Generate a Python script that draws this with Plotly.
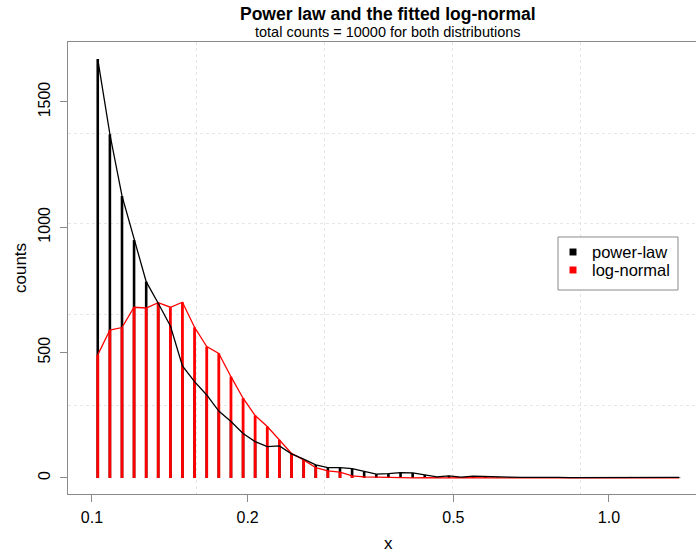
import plotly.graph_objects as go

# ---- data ----
x_mid = [0.1026, 0.1083, 0.1143, 0.1206, 0.1273, 0.1343, 0.1418, 0.1496, 0.1579, 0.1667,
         0.1759, 0.1857, 0.1960, 0.2068, 0.2183, 0.2304, 0.2432, 0.2567, 0.2709, 0.2859,
         0.3018, 0.3185, 0.3361, 0.3548, 0.3744, 0.3952, 0.4171, 0.4402, 0.4646, 0.4903,
         0.5175, 0.5462, 0.5765, 0.6085, 0.6422, 0.6778, 0.7154, 0.7550, 0.7969, 0.8410,
         0.8876, 0.9368, 0.9888, 1.0436, 1.1014, 1.1625, 1.2269, 1.2949, 1.3667]

power_law = [1671, 1371, 1125, 949, 783, 697, 606, 447, 384, 331,
             267, 225, 177, 145, 125, 128, 96, 75, 52, 41,
             41, 37, 25, 15, 17, 21, 20, 12, 4, 8,
             3, 7, 5, 2, 3, 2, 3, 3, 2, 1,
             1, 2, 2, 3, 4, 2, 1, 1, 2]

log_normal = [491, 590, 600, 681, 678, 699, 681, 701, 601, 524,
              497, 404, 318, 249, 205, 152, 98, 72, 41, 28,
              23, 8, 4, 3, 1, 1, 0, 1, 0, 0,
              1, 0, 0, 0, 0, 0, 0, 0, 0, 0,
              0, 0, 0, 0, 0, 0, 0, 0, 0]

series_names = ["power-law", "log-normal"]
series_colors = ["#000000", "#FF0000"]

x_ticks = [0.1, 0.2, 0.5, 1.0]
x_tick_text = ["0.1", "0.2", "0.5", "1.0"]
y_ticks = [0, 500, 1000, 1500]

FONT = "Liberation Sans, Arial, Helvetica, sans-serif"
AXIS_GRAY = "#8a8a8a"
GRID = "#e6e6e6"


def stems(xs, ys):
    X, Y = [], []
    for x, y in zip(xs, ys):
        X += [x, x, None]
        Y += [0, y, None]
    return X, Y


fig = go.Figure()
bx, by = stems(x_mid, power_law)
fig.add_trace(go.Scatter(x=bx, y=by, mode="lines", line=dict(color=series_colors[0], width=2.6),
                         showlegend=False, hoverinfo="skip"))
rx, ry = stems(x_mid, log_normal)
fig.add_trace(go.Scatter(x=rx, y=ry, mode="lines", line=dict(color=series_colors[1], width=2.8),
                         showlegend=False, hoverinfo="skip"))
fig.add_trace(go.Scatter(x=x_mid, y=log_normal, mode="lines", name=series_names[1],
                         line=dict(color=series_colors[1], width=1.3), showlegend=False))
fig.add_trace(go.Scatter(x=x_mid, y=power_law, mode="lines", name=series_names[0],
                         line=dict(color=series_colors[0], width=1.3), showlegend=False))

# ---- manual legend (R style) ----
shapes = [dict(type="rect", xref="paper", yref="paper", x0=0.7803, x1=0.9713, y0=0.4513, y1=0.5686,
               line=dict(color=AXIS_GRAY, width=1), fillcolor="white", layer="above")]
annos = []
row_y = [0.5354, 0.4956]
for name, col, yy in zip(series_names, series_colors, row_y):
    shapes.append(dict(type="rect", xref="paper", yref="paper",
                       x0=0.7986, x1=0.8097, y0=yy - 0.0077, y1=yy + 0.0077,
                       line=dict(width=0), fillcolor=col, layer="above"))
    annos.append(dict(text=name, xref="paper", yref="paper", x=0.8312, y=yy,
                      xanchor="left", yanchor="middle", showarrow=False,
                      font=dict(size=16.5)))

fig.update_layout(
    width=696, height=553,
    margin=dict(l=68, r=0, t=42, b=59),
    plot_bgcolor="white", paper_bgcolor="white",
    font=dict(family=FONT, size=16, color="black"),
    showlegend=False,
    xaxis=dict(type="log", range=[-1.0464, 0.1683],
               tickvals=x_ticks, ticktext=x_tick_text,
               ticks="outside", ticklen=7, tickcolor=AXIS_GRAY,
               showline=True, linecolor=AXIS_GRAY, linewidth=1, mirror=True,
               showgrid=False, zeroline=False,
               tickfont=dict(size=16), ticklabelstandoff=2,
               minor=dict(tickvals=[0.1594, 0.2813, 0.4977, 0.8789], showgrid=True,
                          gridcolor=GRID, griddash="dot", gridwidth=1, ticklen=0)),
    yaxis=dict(range=[-64, 1739],
               tickvals=y_ticks, tickangle=-90,
               ticks="outside", ticklen=7, tickcolor=AXIS_GRAY,
               showline=True, linecolor=AXIS_GRAY, linewidth=1, mirror=False,
               showgrid=False, zeroline=False,
               tickfont=dict(size=16), ticklabelstandoff=4,
               minor=dict(tickvals=[291, 654, 1017, 1376], showgrid=True,
                          gridcolor=GRID, griddash="dot", gridwidth=1, ticklen=0)),
    shapes=shapes,
    annotations=[
        dict(text="<b>Power law and the fitted log-normal</b>", xref="paper", yref="paper",
             x=0.5096, y=1.0619, xanchor="center", yanchor="middle", showarrow=False,
             font=dict(size=17.5)),
        dict(text="total counts = 10000 for both distributions", xref="paper", yref="paper",
             x=0.5096, y=1.0221, xanchor="center", yanchor="middle", showarrow=False,
             font=dict(size=14.5)),
        dict(text="x", xref="paper", yref="paper", x=0.5096, y=-0.1106,
             xanchor="center", yanchor="middle", showarrow=False, font=dict(size=17)),
        dict(text="counts", xref="paper", yref="paper", x=-0.0764, y=0.5,
             xanchor="center", yanchor="middle", showarrow=False, textangle=-90,
             font=dict(size=17)),
    ] + annos,
)

fig.write_html("out.html")
